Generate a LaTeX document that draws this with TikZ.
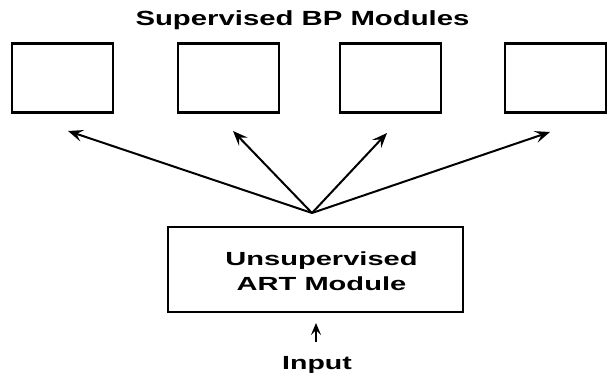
\documentclass[tikz,border=0pt]{standalone}
\usepackage{fontspec}
\setmainfont{Liberation Sans}
\usetikzlibrary{arrows.meta}
\newcommand{\wide}[2]{\scalebox{#1}[1]{#2}}
\begin{document}
\begin{tikzpicture}[x=1pt,y=-1pt,
  bpbox/.style={draw,line width=2.4pt,minimum width=101pt,minimum height=69pt,inner sep=0pt},
  artbox/.style={draw,line width=2.4pt,minimum width=295pt,minimum height=85pt,inner sep=0pt},
  lbl/.style={font=\bfseries\fontsize{19}{25}\selectfont,inner sep=0pt,align=center},
  arr/.style={line width=2pt,-{Stealth[length=15pt,width=12pt,inset=6pt]}}]
\useasboundingbox (0,0) rectangle (608,378);
\node[lbl,font=\bfseries\fontsize{20.5}{25}\selectfont,anchor=base] (title) at (302.5,25.7) {\wide{1.43}{Supervised BP Modules}};
\node[bpbox] (b1) at (62.5,78) {};
\node[bpbox] (b2) at (228.5,78) {};
\node[bpbox] (b3) at (390.5,78) {};
\node[bpbox] (b4) at (555.5,78) {};
\node[artbox] (art) at (315.5,269.5) {};
\node[lbl,anchor=base] (art1) at (321.5,265) {\wide{1.53}{Unsupervised}};
\node[lbl,anchor=base] (art2) at (321.5,290) {\wide{1.53}{ART Module}};
\node[lbl,anchor=base] (input) at (317,369) {\wide{1.5}{Input}};
\coordinate (o) at (312,213);
\coordinate (t1) at (68,131);
\coordinate (t2) at (233,131);
\coordinate (t3) at (387,133);
\coordinate (t4) at (550,132);
\coordinate (ti) at (316,323);
\coordinate (si) at (316,342);
\foreach \t in {t1,t2,t3,t4} \draw[arr] (o) -- (\t);
\draw[line width=1.6pt,-{Stealth[length=12pt,width=10pt,inset=5pt]}] (si) -- (ti);
\end{tikzpicture}
\end{document}
